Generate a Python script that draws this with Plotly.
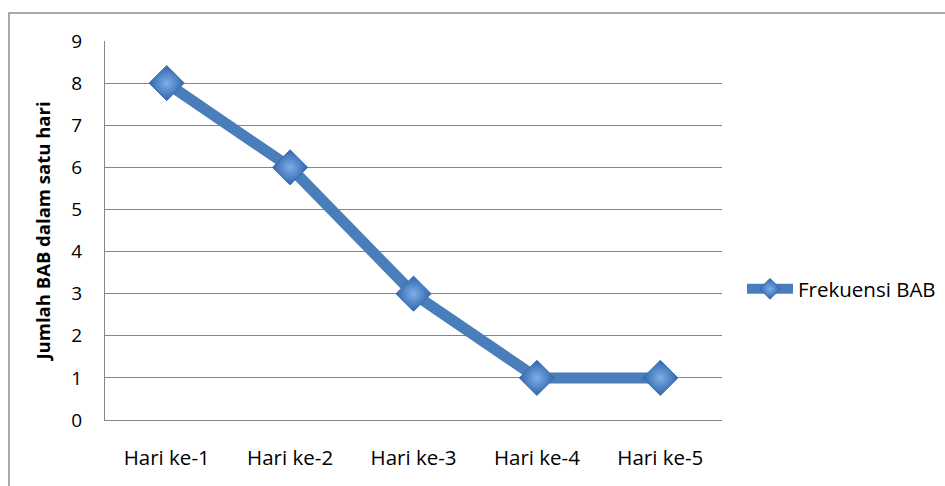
import plotly.graph_objects as go

categories = ["Hari ke-1", "Hari ke-2", "Hari ke-3", "Hari ke-4", "Hari ke-5"]
frekuensi_bab = [8, 6, 3, 1, 1]
series_name = "Frekuensi BAB"
y_title = "Jumlah BAB dalam satu hari"
y_ticks = list(range(0, 10))

W, H = 945, 486
L, R, T, B = 105, 223, 41, 66
pw, ph = W - L - R, H - T - B

def px_x(x):
    return (x - L) / pw

def px_y(y):
    return (H - B - y) / ph

fig = go.Figure()
fig.add_trace(go.Scatter(
    x=categories, y=frekuensi_bab, name=series_name,
    mode="lines+markers",
    line=dict(color="#4A7EBB", width=11),
    marker=dict(symbol="diamond", size=27, color="#2F65AC",
                gradient=dict(type="radial", color="#7EAEE8"),
                line=dict(color="#3A6DAE", width=1)),
))

font = "'Open Sans', sans-serif"
fig.update_layout(
    width=W, height=H,
    margin=dict(l=L, r=R, t=T, b=B, autoexpand=False),
    paper_bgcolor="white", plot_bgcolor="white",
    font=dict(family=font, size=19, color="#000000"),
    showlegend=True,
    legend=dict(x=px_x(742), y=px_y(289), xanchor="left", yanchor="middle",
                font=dict(size=20.5), bgcolor="rgba(0,0,0,0)", itemwidth=46),
    xaxis=dict(type="category", showgrid=False, showline=True, linecolor="#868686",
               linewidth=1, ticks="", ticklabelstandoff=19, zeroline=False,
               range=[-0.5, 4.5], tickfont=dict(size=20.5)),
    yaxis=dict(range=[0, 9], tickvals=y_ticks, showgrid=True, gridcolor="#868686",
               gridwidth=1, showline=True, linecolor="#868686", linewidth=1,
               ticks="", ticklabelstandoff=18, zeroline=False,
               tickfont=dict(size=19),
               title=dict(text="<b>" + y_title + "</b>", font=dict(size=18.5), standoff=15)),
    shapes=[dict(type="rect", xref="paper", yref="paper",
                 x0=px_x(9), x1=px_x(960), y0=px_y(500), y1=px_y(13),
                 line=dict(color="#8C8C8C", width=1.5), layer="below")],
)
fig.write_html("out.html")
